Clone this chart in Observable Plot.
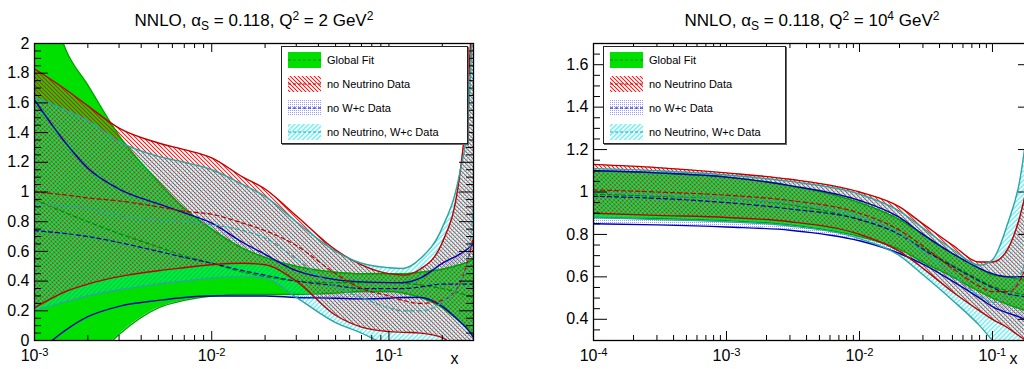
<!DOCTYPE html>
<html><head><meta charset="utf-8">
<script src="https://cdn.jsdelivr.net/npm/d3@7"></script>
<script src="https://cdn.jsdelivr.net/npm/@observablehq/plot@0.6"></script>
<style>
html,body{margin:0;padding:0;background:#fff;overflow:hidden;width:1024px;height:369px;}
body{position:relative;font-family:"Liberation Sans",Arial,sans-serif;color:#000;}
.title{position:absolute;top:12px;width:400px;text-align:center;font-size:17px;line-height:17px;white-space:nowrap;}
.title sub{font-size:12px;vertical-align:-4px;line-height:0;}
.title sup{font-size:12px;vertical-align:6px;line-height:0;}
.panel{position:absolute;top:36px;height:333px;overflow:hidden;}
.panel svg{max-width:none !important;}
.legend{position:absolute;background:#fff;border:1px solid #222;box-shadow:1px 1px 0 #666;font-size:11px;}
.legend .row{position:absolute;left:6px;height:16px;display:flex;align-items:center;}
.legend .row svg{display:block;margin-right:6px;}
</style>
</head><body>
<svg width="0" height="0" style="position:absolute">
  <defs>
    <pattern id="hRed" width="2.83" height="2.83" patternUnits="userSpaceOnUse" patternTransform="rotate(-45)">
      <line x1="1.415" y1="-1" x2="1.415" y2="4" stroke="#ff0000" stroke-width="0.85"/>
    </pattern>
    <pattern id="hCyan" width="3.3" height="3.3" patternUnits="userSpaceOnUse" patternTransform="rotate(45)">
      <line x1="1.65" y1="-1" x2="1.65" y2="4.5" stroke="#00e6f2" stroke-width="0.85"/>
    </pattern>
    <pattern id="dBlue" width="2" height="2" patternUnits="userSpaceOnUse">
      <rect x="0" y="0" width="1" height="1" fill="#9a9aff" shape-rendering="crispEdges"/>
    </pattern>
  </defs>
</svg>

<div class="title" style="left:54px">NNLO, α<sub>S</sub> = 0.118, Q<sup>2</sup> = 2 GeV<sup>2</sup></div>
<div class="title" style="left:612px">NNLO, α<sub>S</sub> = 0.118, Q<sup>2</sup> = 10<sup>4</sup> GeV<sup>2</sup></div>
<div id="p1" class="panel" style="left:0;width:512px"></div>
<div id="p2" class="panel" style="left:512px;width:512px"></div>
<div id="leg1" class="legend" style="left:281px;top:46px;width:185px;height:96px"></div>
<div id="leg2" class="legend" style="left:603px;top:46px;width:181px;height:96px"></div>

<script>
// ---------- data: Q^2 = 2 GeV^2 ----------
const xL = [0.001, 0.0015, 0.002, 0.003, 0.005, 0.007, 0.01, 0.015, 0.02, 0.03, 0.05, 0.07, 0.1, 0.12, 0.15, 0.2, 0.25, 0.28, 0.3];
const greenHiL = [2.70, 1.96, 1.72, 1.38, 1.07, 0.89, 0.75, 0.62, 0.56, 0.50, 0.46, 0.45, 0.45, 0.45, 0.46, 0.48, 0.51, 0.53, 0.55];
const greenLoL = [-0.60, -0.35, -0.18, 0.04, 0.22, 0.27, 0.30, 0.31, 0.31, 0.31, 0.32, 0.33, 0.33, 0.32, 0.29, 0.22, 0.13, 0.08, 0.04];
const greenMidL = [0.95, 0.86, 0.80, 0.72, 0.63, 0.57, 0.52, 0.46, 0.43, 0.40, 0.39, 0.39, 0.39, 0.385, 0.375, 0.35, 0.32, 0.30, 0.29];
const redHiL = [1.83, 1.69, 1.58, 1.43, 1.33, 1.285, 1.23, 1.10, 1.02, 0.84, 0.61, 0.51, 0.45, 0.44, 0.48, 0.66, 1.10, 1.70, 2.40];
const redLoL = [0.22, 0.33, 0.38, 0.43, 0.47, 0.49, 0.51, 0.52, 0.51, 0.40, 0.17, 0.09, 0.06, 0.055, 0.05, 0.02, -0.10, -0.20, -0.30];
const redMidL = [1.00, 0.98, 0.96, 0.94, 0.90, 0.87, 0.85, 0.79, 0.74, 0.64, 0.45, 0.35, 0.30, 0.27, 0.25, 0.27, 0.38, 0.55, 0.70];
const blueHiL = [1.62, 1.33, 1.16, 1.02, 0.92, 0.86, 0.79, 0.66, 0.58, 0.47, 0.41, 0.395, 0.39, 0.39, 0.42, 0.52, 0.58, 0.62, 0.65];
const blueLoL = [-0.10, 0.07, 0.16, 0.23, 0.27, 0.29, 0.30, 0.30, 0.30, 0.29, 0.285, 0.28, 0.285, 0.29, 0.29, 0.23, 0.13, 0.07, 0.02];
const blueMidL = [0.74, 0.72, 0.70, 0.66, 0.60, 0.56, 0.52, 0.47, 0.44, 0.40, 0.37, 0.35, 0.35, 0.35, 0.36, 0.38, 0.38, 0.38, 0.38];
const tealHiL = [1.64, 1.55, 1.48, 1.34, 1.24, 1.20, 1.15, 1.05, 0.97, 0.80, 0.60, 0.52, 0.49, 0.485, 0.55, 0.76, 1.12, 1.50, 2.30];
const tealLoL = [0.20, 0.26, 0.30, 0.34, 0.38, 0.40, 0.42, 0.43, 0.42, 0.29, 0.12, 0.05, -0.04, -0.08, -0.14, -0.24, -0.34, -0.40, -0.45];
const tealMidL = [0.92, 0.90, 0.89, 0.84, 0.81, 0.80, 0.78, 0.74, 0.69, 0.55, 0.36, 0.29, 0.22, 0.20, 0.20, 0.26, 0.39, 0.55, 0.92];

// ---------- data: Q^2 = 10^4 GeV^2 ----------
const xR = [0.0001, 0.0003, 0.001, 0.003, 0.01, 0.02, 0.03, 0.05, 0.08, 0.1, 0.13, 0.16, 0.2];
const greenHiR = [1.10, 1.09, 1.07, 1.03, 0.95, 0.87, 0.80, 0.71, 0.64, 0.61, 0.60, 0.59, 0.59];
const greenLoR = [0.88, 0.875, 0.865, 0.845, 0.79, 0.73, 0.67, 0.60, 0.53, 0.50, 0.47, 0.45, 0.43];
const greenMidR = [0.99, 0.98, 0.97, 0.94, 0.87, 0.80, 0.735, 0.655, 0.585, 0.555, 0.535, 0.52, 0.51];
const redHiR = [1.13, 1.115, 1.09, 1.06, 1.00, 0.93, 0.85, 0.75, 0.67, 0.67, 0.73, 0.88, 1.15];
const redLoR = [0.90, 0.89, 0.88, 0.86, 0.80, 0.72, 0.64, 0.53, 0.44, 0.40, 0.36, 0.32, 0.28];
const redMidR = [1.01, 1.00, 0.985, 0.96, 0.90, 0.82, 0.745, 0.64, 0.555, 0.53, 0.53, 0.58, 0.74];
const blueHiR = [1.10, 1.09, 1.07, 1.03, 0.96, 0.88, 0.80, 0.71, 0.64, 0.615, 0.60, 0.60, 0.62];
const blueLoR = [0.85, 0.845, 0.835, 0.82, 0.77, 0.71, 0.66, 0.58, 0.50, 0.46, 0.43, 0.41, 0.38];
const blueMidR = [0.98, 0.97, 0.95, 0.92, 0.87, 0.80, 0.73, 0.65, 0.58, 0.55, 0.52, 0.51, 0.50];
const tealHiR = [1.11, 1.10, 1.08, 1.05, 0.99, 0.91, 0.83, 0.73, 0.655, 0.68, 0.85, 1.05, 1.50];
const tealLoR = [0.88, 0.87, 0.86, 0.84, 0.78, 0.70, 0.61, 0.49, 0.37, 0.30, 0.22, 0.15, 0.07];
const tealMidR = [1.00, 0.985, 0.97, 0.945, 0.885, 0.805, 0.72, 0.61, 0.51, 0.48, 0.52, 0.60, 0.78];

// ---------- ticks & labels ----------
const xMajL = [0.001, 0.01, 0.1];
const xMinL = [0.002,0.003,0.004,0.005,0.006,0.007,0.008,0.009,0.02,0.03,0.04,0.05,0.06,0.07,0.08,0.09,0.2,0.3];
const xMajR = [0.0001, 0.001, 0.01, 0.1];
const xMinR = [0.0002,0.0003,0.0004,0.0005,0.0006,0.0007,0.0008,0.0009,0.002,0.003,0.004,0.005,0.006,0.007,0.008,0.009,0.02,0.03,0.04,0.05,0.06,0.07,0.08,0.09,0.2];
const yMajL = [0, 0.2, 0.4, 0.6, 0.8, 1, 1.2, 1.4, 1.6, 1.8, 2];
const yMajR = [0.4, 0.6, 0.8, 1, 1.2, 1.4, 1.6];
const legendLabels = ["Global Fit", "no Neutrino Data", "no W+c Data", "no Neutrino, W+c Data"];

const styles = [
  {fill: "#00e000", edge: "#00a000", mid: "#008a00"},
  {fill: "url(#hRed)", edge: "#c00000", mid: "#c00000"},
  {fill: "url(#dBlue)", edge: "#0000b4", mid: "#0000b4"},
  {fill: "url(#hCyan)", edge: "#2fa3a3", mid: "#2fa3a3"}
];

const FW = 439, FH = 297;
const font = "Liberation Sans, Arial, sans-serif";

function panel(xs, bands, xDomain, yDomain, xMaj, xMin, yMaj, width, marginLeft, marginRight) {
  const order = [2, 0, 1, 3]; // blue dots, green, red hatch, cyan hatch
  const rows = b => xs.map((x, i) => ({x, hi: b[0][i], lo: b[1][i], mid: b[2][i]}));
  const yMin = d3.range(yDomain[0], yDomain[1] + 1e-9, 0.05).map(v => +v.toFixed(2)).filter(v => !yMaj.includes(v));
  const marks = [];
  for (const k of order) marks.push(Plot.areaY(rows(bands[k]), {x: "x", y1: "lo", y2: "hi", fill: styles[k].fill, curve: "monotone-x", clip: true}));
  for (const k of [0, 2, 1, 3]) {
    const d = rows(bands[k]);
    marks.push(Plot.lineY(d, {x: "x", y: "hi", stroke: styles[k].edge, strokeWidth: 1.4, curve: "monotone-x", clip: true}));
    marks.push(Plot.lineY(d, {x: "x", y: "lo", stroke: styles[k].edge, strokeWidth: 1.4, curve: "monotone-x", clip: true}));
    marks.push(Plot.lineY(d, {x: "x", y: "mid", stroke: styles[k].mid, strokeWidth: 1.2, strokeDasharray: "4,3", curve: "monotone-x", clip: true}));
  }
  marks.push(
    Plot.ruleX(xMaj, {insetTop: FH - 9, stroke: "#000"}),
    Plot.ruleX(xMaj, {insetBottom: FH - 9, stroke: "#000"}),
    Plot.ruleX(xMin, {insetTop: FH - 5, stroke: "#000"}),
    Plot.ruleX(xMin, {insetBottom: FH - 5, stroke: "#000"}),
    Plot.ruleY(yMaj, {insetRight: FW - 14, stroke: "#000"}),
    Plot.ruleY(yMaj, {insetLeft: FW - 14, stroke: "#000"}),
    Plot.ruleY(yMin, {insetRight: FW - 7, stroke: "#000"}),
    Plot.ruleY(yMin, {insetLeft: FW - 7, stroke: "#000"}),
    Plot.frame({stroke: "#000", strokeWidth: 1.3}),
    Plot.axisX({ticks: xMaj, tickSize: 0, tickPadding: 9, label: null, fontSize: 16,
      tickFormat: d => "10^" + Math.round(Math.log10(d))}),
    Plot.axisY({ticks: yMaj, tickSize: 0, tickPadding: 5, label: null, fontSize: 16,
      tickFormat: d => String(+d.toFixed(2))}),
    Plot.text(["x"], {text: d => d, frameAnchor: "bottom-right", dx: -15, dy: 23, fontSize: 16})
  );
  const svg = Plot.plot({
    width, height: 333, marginLeft, marginRight, marginTop: 7, marginBottom: 29,
    x: {type: "log", domain: xDomain},
    y: {domain: yDomain},
    style: {fontFamily: font, fontSize: "16px", color: "#000", background: "transparent", overflow: "hidden", maxWidth: "none"},
    marks
  });
  svg.style.maxWidth = "none";
  svg.querySelectorAll("text").forEach(t => {
    const ts = t.querySelectorAll("tspan");
    const nodes = ts.length ? [...ts] : [t];
    nodes.forEach(n => {
      const s = n.textContent;
      if (!s.includes("^")) return;
      const [b, e] = s.split("^");
      n.textContent = b;
      const sp = document.createElementNS("http://www.w3.org/2000/svg", "tspan");
      sp.setAttribute("dy", "-0.45em");
      sp.setAttribute("font-size", "0.7em");
      sp.textContent = e;
      n.appendChild(sp);
    });
  });
  return svg;
}

const bandsL = [
  [greenHiL, greenLoL, greenMidL],
  [redHiL, redLoL, redMidL],
  [blueHiL, blueLoL, blueMidL],
  [tealHiL, tealLoL, tealMidL]
];
const bandsR = [
  [greenHiR, greenLoR, greenMidR],
  [redHiR, redLoR, redMidR],
  [blueHiR, blueLoR, blueMidR],
  [tealHiR, tealLoR, tealMidR]
];

document.getElementById("p1").appendChild(panel(xL, bandsL, [0.001, 0.3], [0, 2], xMajL, xMinL, yMajL, 512, 34, 39));
document.getElementById("p2").appendChild(panel(xR, bandsR, [0.0001, 0.2], [0.3, 1.7], xMajR, xMinR, yMajR, 540, 81, 20));

function legend(id) {
  const el = document.getElementById(id);
  legendLabels.forEach((lab, i) => {
    const row = document.createElement("div");
    row.className = "row";
    row.style.top = (5 + i * 24) + "px";
    row.innerHTML = `<svg width="33" height="16"><rect width="33" height="16" fill="${styles[i].fill}"/>` +
      `<line x1="0" x2="33" y1="8" y2="8" stroke="${styles[i].mid}" stroke-width="1.2" stroke-dasharray="3,2"/></svg><span>${lab}</span>`;
    el.appendChild(row);
  });
}
legend("leg1");
legend("leg2");
</script>
</body></html>
